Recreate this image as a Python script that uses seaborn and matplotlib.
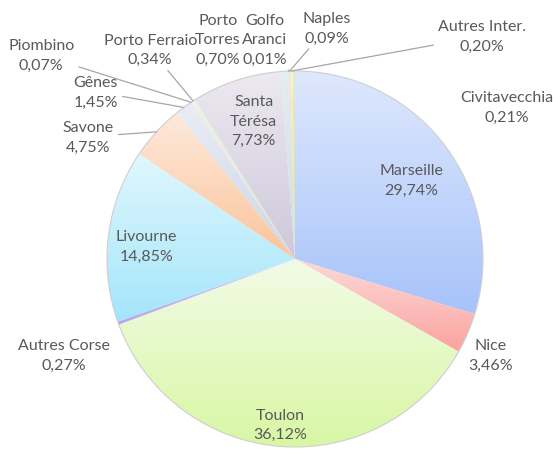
import numpy as np
import matplotlib
matplotlib.use('Agg')
import matplotlib.pyplot as plt
import matplotlib.colors as mcolors
import seaborn as sns

# Data
ports = ['Marseille', 'Nice', 'Toulon', 'Autres Corse', 'Livourne', 'Savone', 'Gênes',
         'Piombino', 'Porto Ferraio', 'Santa Térésa', 'Porto Torres', 'Golfo Aranci',
         'Naples', 'Autres Inter.', 'Civitavecchia']
shares = [29.74, 3.46, 36.12, 0.27, 14.85, 4.75, 1.45,
          0.07, 0.34, 7.73, 0.70, 0.01,
          0.09, 0.20, 0.21]
label_names = ['Marseille', 'Nice', 'Toulon', 'Autres Corse', 'Livourne', 'Savone', 'Gênes',
               'Piombino', 'Porto Ferraio', 'Santa\nTérésa', 'Porto\nTorres', 'Golfo\nAranci',
               'Naples', 'Autres Inter.', 'Civitavecchia']

# gradient colours (top, bottom) per slice
top_colors = ['#dee8fd', '#fcd9d9', '#f2fbe6', '#d6ccf5', '#e0f7fd', '#fde9db', '#e9edf5',
              '#e8e8e8', '#eef3e4', '#ece9f1', '#e4edf1', '#f3e4c4',
              '#fad6dd', '#f8f2b8', '#dfeccb']
bottom_colors = ['#a7c3fa', '#fba39f', '#d8f7a4', '#b8a6ee', '#a4e5fb', '#fbc49b', '#cdd5e6',
                 '#d2d2d2', '#dbe5c9', '#cec8da', '#cddde5', '#ecd09a',
                 '#f5b4c0', '#efe38a', '#c9dfa6']

# label positions (pie radius = 1)
label_pos = {
    'Marseille': (0.62, 0.42), 'Nice': (1.04, -0.51), 'Toulon': (-0.08, -0.88),
    'Autres Corse': (-1.23, -0.51), 'Livourne': (-0.79, 0.07), 'Savone': (-1.10, 0.65),
    'Gênes': (-1.06, 0.89), 'Piombino': (-1.35, 1.085), 'Porto Ferraio': (-0.77, 1.115),
    'Santa Térésa': (-0.22, 0.735), 'Porto Torres': (-0.41, 1.17),
    'Golfo Aranci': (-0.16, 1.17), 'Naples': (0.17, 1.23), 'Autres Inter.': (0.995, 1.185),
    'Civitavecchia': (1.125, 0.81),
}
with_leader = ['Savone', 'Gênes', 'Piombino', 'Porto Ferraio', 'Golfo Aranci',
               'Naples', 'Autres Inter.']

sns.set_theme(style='white')
plt.rcParams['font.family'] = ['Lato', 'DejaVu Sans']

fig = plt.figure(figsize=(5.53, 4.52), dpi=100)
ax = fig.add_axes([0, 0, 1, 1])

wedges, _ = ax.pie(shares, startangle=90, counterclock=False, radius=1.0,
                   wedgeprops=dict(linewidth=0))

for w, c_top, c_bot in zip(wedges, top_colors, bottom_colors):
    w.set_facecolor('none')
    bb = w.get_path().get_extents()
    t = np.linspace(0, 1, 64)[:, None]
    grad = (1 - t) * np.array(mcolors.to_rgb(c_top)) + t * np.array(mcolors.to_rgb(c_bot))
    img = ax.imshow(grad[:, None, :], extent=(bb.x0, bb.x1, bb.y0, bb.y1),
                    origin='upper', aspect='auto', interpolation='bilinear', zorder=1)
    img.set_clip_path(w)

# soft outer edge
ax.add_patch(plt.Circle((0, 0), 1.0, fill=False, edgecolor='#cfcfcf', linewidth=0.8, zorder=2))

for name, lab, val, w in zip(ports, label_names, shares, wedges):
    txt = lab + '\n' + f"{val:.2f}".replace('.', ',') + '%'
    x, y = label_pos[name]
    if name in with_leader:
        mid = np.deg2rad((w.theta1 + w.theta2) / 2)
        ax.annotate(txt, xy=(np.cos(mid), np.sin(mid)), xytext=(x, y),
                    ha='center', va='center', fontsize=11.5, color='#595959',
                    linespacing=1.5, zorder=4,
                    arrowprops=dict(arrowstyle='-', color='#a6a6a6', lw=0.9,
                                    shrinkA=1, shrinkB=0))
    else:
        ax.text(x, y, txt, ha='center', va='center', fontsize=11.5, color='#595959',
                linespacing=1.5, zorder=4)

ax.set_xlim(-295 / 188, (553 - 295) / 188)
ax.set_ylim(-(452 - 260) / 188, 260 / 188)
ax.set_aspect('auto')
ax.axis('off')

fig.savefig('out.png', dpi=100)
